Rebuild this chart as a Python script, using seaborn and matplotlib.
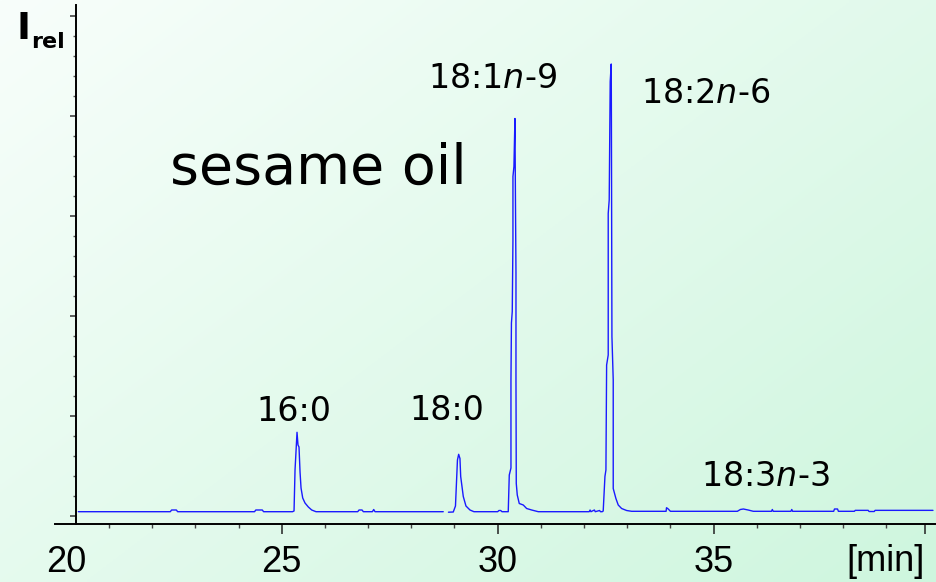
import numpy as np
import pandas as pd
import matplotlib
matplotlib.use("Agg")
import matplotlib.pyplot as plt
import seaborn as sns
from matplotlib.ticker import FixedLocator, MultipleLocator

# ---------------- data ----------------
retention_time = [
    20.29, 22.42, 22.45, 22.56, 22.59, 24.37, 24.40, 24.55, 24.58,
    25.250, 25.285, 25.308, 25.324, 25.354, 25.377, 25.400, 25.424, 25.447, 25.486,
    25.539, 25.616, 25.694, 25.794,
    26.76, 26.79, 26.86, 26.89, 27.10, 27.13, 27.16, 28.74,
    28.86, 28.972, 29.023, 29.069, 29.097, 29.127, 29.144, 29.204, 29.266, 29.359, 29.451,
    30.00, 30.03, 30.07, 30.10,
    30.245, 30.269, 30.308, 30.308, 30.319, 30.338, 30.354, 30.354, 30.377, 30.400,
    30.412, 30.424, 30.424, 30.431, 30.454, 30.500, 30.593, 30.671, 30.787, 30.940,
    32.12, 32.14, 32.16, 32.24, 32.26, 32.36, 32.38,
    32.421, 32.444, 32.484, 32.507, 32.523, 32.560, 32.560, 32.583, 32.606, 32.630,
    32.634, 32.646, 32.676, 32.676, 32.738, 32.792, 32.870, 32.986, 33.102, 33.25,
    33.90, 33.91, 33.95, 34.00, 34.14,
    35.55, 35.62, 35.69, 35.80, 35.92,
    36.34, 36.36, 36.38, 36.79, 36.81, 36.83, 37.78, 37.80, 37.87, 37.89,
    38.26, 38.28, 38.58, 38.60, 38.72, 38.74, 40.08,
]
intensity = [
    0.86, 0.86, 1.2, 1.2, 0.86, 0.86, 1.2, 1.2, 0.86,
    0.86, 1.0, 9.2, 11.8, 16.74, 14.2, 13.8, 8.8, 5.6, 3.6,
    2.6, 1.8, 1.2, 0.86,
    0.86, 1.2, 1.2, 0.86, 0.86, 1.3, 0.86, 0.86,
    0.76, 0.8, 2.0, 11.2, 12.34, 11.5, 7.9, 3.9, 2.0, 1.2, 0.86,
    0.86, 1.1, 1.1, 0.86,
    0.86, 8.2, 9.6, 27.2, 38.6, 40.9, 55.2, 67.9, 69.9, 79.5,
    63.2, 48.6, 27.2, 6.5, 4.2, 2.5, 2.2, 1.5, 1.2, 0.86,
    0.86, 1.2, 0.86, 1.2, 0.86, 1.1, 0.86,
    0.86, 1.0, 7.9, 9.2, 30.2, 32.2, 60.5, 63.2, 86.9, 90.4,
    79.2, 35.9, 27.2, 5.5, 3.5, 2.2, 1.5, 1.1, 0.94, 0.94,
    0.94, 1.66, 1.4, 0.94, 0.94,
    0.94, 1.3, 1.4, 1.2, 0.94,
    0.94, 1.3, 0.94, 0.94, 1.3, 0.94, 0.94, 1.4, 1.4, 0.94,
    0.94, 1.13, 1.13, 0.9, 0.9, 1.13, 1.13,
]
gap_start = 28.74  # small break in the recorded trace

peak_labels = ["16:0", "18:0", "18:1$\\mathit{n}$-$\\mathit{9}$",
               "18:2$\\mathit{n}$-$\\mathit{6}$", "18:3$\\mathit{n}$-$\\mathit{3}$"]
label_time = [25.28, 28.83, 29.89, 34.81, 36.19]
label_intensity = [19.0, 19.2, 85.5, 82.5, 5.9]

x_major_ticks = [20, 25, 30, 35, 39.9]
x_tick_labels = ["20", "25", "30", "35", ""]
y_major_ticks = [0, 20, 40, 60, 80, 100]

title_text = "sesame oil"
unit_text = "[min]"

# ---------------- figure ----------------
sns.set_theme(style="white")
plt.rcParams["font.family"] = ["DejaVu Sans"]
plt.rcParams["mathtext.fontset"] = "dejavusans"
plt.rcParams["text.color"] = "black"

W, H = 936, 582
fig = plt.figure(figsize=(W / 100, H / 100), dpi=100)

# gradient background
bg = fig.add_axes([0, 0, 1, 1], zorder=-10)
gx, gy = np.meshgrid(np.linspace(0, 1, 300), np.linspace(0, 1, 200))
s = np.clip(0.55 * gx + 0.45 * gy, 0, 1)[..., None]
c0 = np.array([248, 254, 251]) / 255
c1 = np.array([206, 246, 222]) / 255
img = c0 * (1 - s) + c1 * s
bg.imshow(img, aspect="auto", extent=[0, 1, 0, 1], origin="upper")
bg.axis("off")

ax = fig.add_axes([55 / W, (H - 524) / H, 1 - 55 / W, (524 - 5) / H])
ax.set_facecolor("none")

df = pd.DataFrame({"time": retention_time, "intensity": intensity})
df["segment"] = np.where(df["time"] > gap_start, 1, 0)
sns.lineplot(data=df, x="time", y="intensity", units="segment", estimator=None,
             sort=False, color="#1a1aff", linewidth=1.0, ax=ax)

ax.set_xlim(19.75, 40.15)
ax.set_ylim(-1.6, 102.2)
ax.set_xlabel("")
ax.set_ylabel("")

for side in ["top", "right"]:
    ax.spines[side].set_visible(False)
for side in ["left", "bottom"]:
    ax.spines[side].set_color("black")
    ax.spines[side].set_linewidth(1.4)
ax.spines["left"].set_position(("data", 20.23))

ax.xaxis.set_major_locator(FixedLocator(x_major_ticks))
ax.set_xticklabels(x_tick_labels, fontfamily="Liberation Sans", fontsize=26)
ax.xaxis.set_minor_locator(FixedLocator([21, 22, 23, 24, 26, 27, 28, 29, 31, 32, 33, 34, 36, 37, 38, 39]))
ax.yaxis.set_major_locator(FixedLocator(y_major_ticks))
ax.yaxis.set_minor_locator(MultipleLocator(4))
ax.set_yticklabels([])

ax.tick_params(axis="x", which="major", direction="out", length=7.2, width=1.1,
               color="#222", pad=8, bottom=True, labelcolor="black")
ax.tick_params(axis="x", which="minor", direction="out", length=2.9, width=1.0,
               color="#444", bottom=True)
ax.tick_params(axis="y", which="major", direction="out", length=4.3, width=1.1,
               color="#333", left=True)
ax.tick_params(axis="y", which="minor", direction="out", length=2.4, width=1.0,
               color="#555", left=True)
ax.xaxis.get_major_ticks()[0].tick1line.set_visible(False)

for lab, tx, ty in zip(peak_labels, label_time, label_intensity):
    ax.text(tx, ty, lab, ha="center", va="baseline", fontsize=24, color="black")

ax.text(22.41, 66.5, title_text, ha="left", va="baseline", fontsize=40, color="black")

fig.text(925 / W, 1 - 571 / H, unit_text, ha="right", va="baseline",
         fontsize=26, fontfamily="Liberation Sans", color="black")
fig.text(16 / W, 1 - 39 / H, "I", ha="left", va="baseline", fontsize=27,
         fontweight="bold", color="black")
fig.text(31 / W, 1 - 48 / H, "rel", ha="left", va="baseline", fontsize=16,
         fontweight="bold", color="black")

fig.savefig("out.png", dpi=100)
